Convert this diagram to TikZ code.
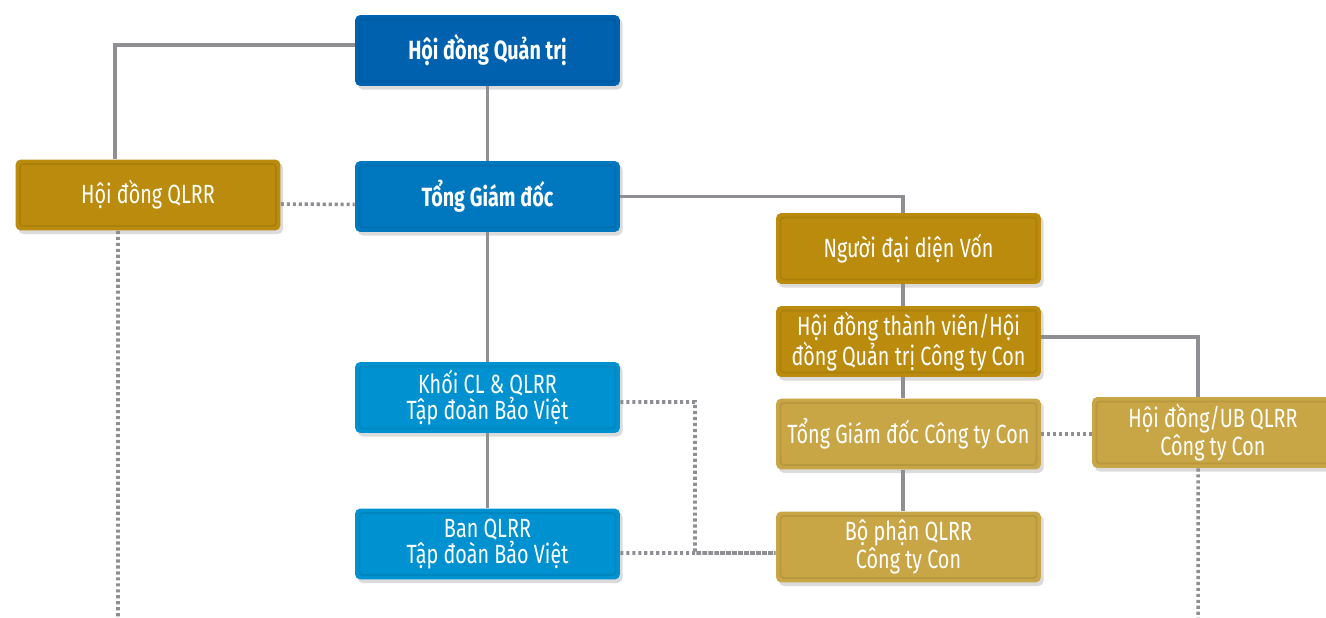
\documentclass[tikz,border=0pt]{standalone}
\usepackage{fontspec}
\setmainfont{Fira Sans}[FakeStretch=0.75]
\usetikzlibrary{shadows}
\definecolor{bvdark}{HTML}{0062AF}
\definecolor{bvmid}{HTML}{0078C0}
\definecolor{bvlight}{HTML}{0092D0}
\definecolor{golddark}{HTML}{BA8B0D}
\definecolor{goldlight}{HTML}{C8A545}
\definecolor{linkgray}{HTML}{8E8E93}
\tikzset{
  orgbox/.style={rounded corners=3pt, minimum width=5.3cm, minimum height=1.42cm,
    inner sep=2pt, align=center, text=white, fill=#1,
    font=\fontsize{15}{14.8}\selectfont,
    drop shadow={shadow xshift=1.5pt, shadow yshift=-2pt, fill=black!14, opacity=1},
    path picture={\draw[#1!92!black, line width=1pt, rounded corners=2pt]
      ([shift={(2.5pt,-2.5pt)}]path picture bounding box.north west) rectangle
      ([shift={(-2.5pt,2.5pt)}]path picture bounding box.south east);}},
  link/.style={linkgray, line width=2pt},
  dotlink/.style={linkgray, line width=2pt, dash pattern=on 1.8pt off 1.6pt}
}
\begin{document}
\begin{tikzpicture}[x=0.02cm, y=-0.02cm]
    \useasboundingbox (0,0) rectangle (1326,618);
    % left column and group
    \node[orgbox=bvdark, font=\fontsize{15}{14.8}\selectfont\bfseries] (hdqt) at (487.5,50.5) {Hội đồng Quản trị};
    \node[orgbox=golddark] (hdqlrr) at (148,195) {Hội đồng QLRR};
    \node[orgbox=bvmid, font=\fontsize{15}{14.8}\selectfont\bfseries] (tgd) at (487.5,196.5) {Tổng Giám đốc};
    \node[orgbox=bvlight] (khoi) at (487.5,397.5) {Khối CL \& QLRR\\Tập đoàn Bảo Việt};
    \node[orgbox=bvlight] (ban) at (487.5,544) {Ban QLRR\\Tập đoàn Bảo Việt};
    % subsidiaries
    \node[orgbox=golddark] (ndd) at (908.5,248.5) {Người đại diện Vốn};
    \node[orgbox=golddark] (hdtv) at (908.5,341.5) {Hội đồng thành viên/Hội\\đồng Quản trị Công ty Con};
    \node[orgbox=goldlight] (tgdcon) at (908.5,434) {Tổng Giám đốc Công ty Con};
    \node[orgbox=goldlight, minimum width=4.84cm] (hdub) at (1213,432.5) {Hội đồng/UB QLRR\\Công ty Con};
    \node[orgbox=goldlight] (bophan) at (908.5,547) {Bộ phận QLRR\\Công ty Con};
    \coordinate (endl) at (118,618);
    \coordinate (endr) at (1198,618);
    \coordinate (turn) at (695,402);

    \draw[link] ([yshift=0.11cm]hdqt.west) -| ([xshift=-0.66cm]hdqlrr.north);
    \draw[link] (hdqt) -- (tgd);
    \draw[link] (tgd.east) -| ([xshift=-0.11cm]ndd.north);
    \draw[link] ([xshift=-0.11cm]ndd.south) -- ([xshift=-0.11cm]hdtv.north);
    \draw[link] ([xshift=-0.11cm]hdtv.south) -- ([xshift=-0.11cm]tgdcon.north);
    \draw[link] ([xshift=-0.11cm]tgdcon.south) -- ([xshift=-0.11cm]bophan.north);
    \draw[link] ([yshift=0.09cm]hdtv.east) -| ([xshift=-0.3cm]hdub.north);
    \draw[link] (tgd) -- (khoi);
    \draw[link] (khoi) -- (ban);

    \draw[dotlink] ([yshift=-0.18cm]hdqlrr.east) -- ([yshift=-0.16cm]tgd.west);
    \draw[dotlink] ([xshift=-0.6cm]hdqlrr.south) -- (endl);
    \draw[dotlink] ([yshift=-0.09cm]khoi.east) -- (turn) |- ([yshift=-0.12cm]bophan.west);
    \draw[dotlink] ([yshift=-0.18cm]ban.east) -- ([yshift=-0.12cm]bophan.west);
    \draw[dotlink] (tgdcon.east) -- (hdub.west |- tgdcon.east);
    \draw[dotlink] ([xshift=-0.3cm]hdub.south) -- (endr);
\end{tikzpicture}
\end{document}
